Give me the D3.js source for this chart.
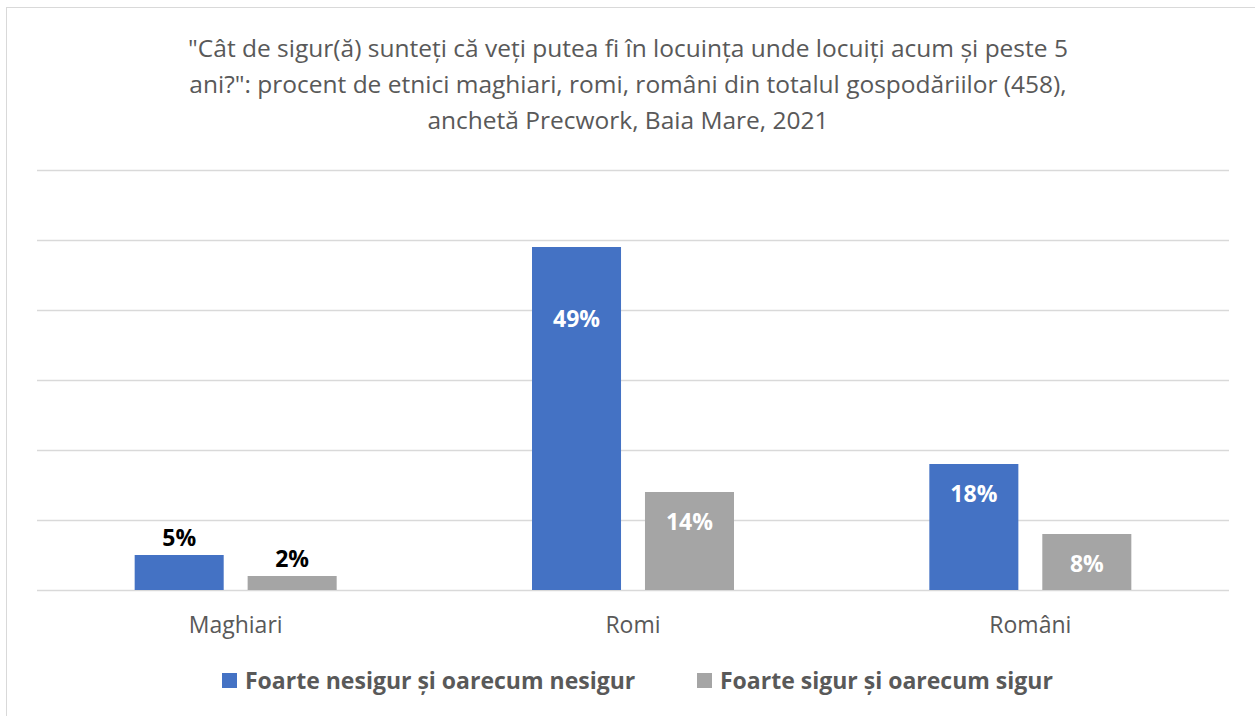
<!DOCTYPE html>
<html>
<head>
  <meta charset="utf-8">
  <script src="https://d3js.org/d3.v7.min.js"></script>
  <style>
    body { margin: 0; background: #fff; }
    text { font-family: "Open Sans", "Noto Sans", sans-serif; }
  </style>
</head>
<body>
  <script>
    // Chart data
    var categories = ["Maghiari", "Romi", "Români"];
    var seriesNames = ["Foarte nesigur și oarecum nesigur", "Foarte sigur și oarecum sigur"];
    var unsure = [5, 49, 18];
    var sure = [2, 14, 8];
    var gridTicks = [0, 10, 20, 30, 40, 50, 60];
    var titleLines = [
      "\"Cât de sigur(ă) sunteți că veți putea fi în locuința unde locuiți acum și peste 5",
      "ani?\": procent de etnici maghiari, romi, români din totalul gospodăriilor (458),",
      "anchetă Precwork, Baia Mare, 2021"
    ];

    var W = 1255, H = 716;
    var colors = ["#4472C4", "#A5A5A5"];
    var margin = {top: 170, right: 26, bottom: 126, left: 37};
    var width = W - margin.left - margin.right;
    var height = H - margin.top - margin.bottom;

    var svg = d3.select("body").append("svg")
      .attr("width", W)
      .attr("height", H);

    // Outer chart border
    svg.append("rect")
      .attr("x", 6.5).attr("y", 7.5)
      .attr("width", W + 10).attr("height", H + 10)
      .attr("fill", "none")
      .attr("stroke", "#d9d9d9");

    // Title
    svg.append("g").selectAll("text")
      .data(titleLines)
      .join("text")
      .attr("x", 628)
      .attr("y", function(d, i) { return 57 + i * 36; })
      .attr("text-anchor", "middle")
      .attr("fill", "#595959")
      .style("font-size", "24.5px")
      .text(function(d) { return d; });

    var g = svg.append("g")
      .attr("transform", "translate(" + margin.left + "," + margin.top + ")");

    var x0 = d3.scaleBand().domain(categories).range([0, width]).paddingInner(0).paddingOuter(0);
    var x1 = d3.scaleBand().domain([0, 1]).range([0, 202]).paddingInner(0.212);
    var y = d3.scaleLinear().domain([0, 60]).range([height, 0]);

    // Gridlines
    g.append("g").selectAll("line")
      .data(gridTicks)
      .join("line")
      .attr("x1", 0).attr("x2", width)
      .attr("y1", function(d) { return Math.round(y(d)) + 0.5; })
      .attr("y2", function(d) { return Math.round(y(d)) + 0.5; })
      .attr("stroke", "#d9d9d9")
      .attr("stroke-width", 1.3);

    var rows = [];
    categories.forEach(function(c, i) {
      rows.push({cat: c, s: 0, v: unsure[i]});
      rows.push({cat: c, s: 1, v: sure[i]});
    });

    function barX(d) {
      return x0(d.cat) + (x0.bandwidth() - 202) / 2 + x1(d.s);
    }

    g.append("g").selectAll("rect")
      .data(rows)
      .join("rect")
      .attr("x", barX)
      .attr("width", x1.bandwidth())
      .attr("y", function(d) { return y(d.v); })
      .attr("height", function(d) { return height - y(d.v); })
      .attr("fill", function(d) { return colors[d.s]; });

    // Value labels: inside end for tall bars, outside end for short ones
    function isInside(d) { return height - y(d.v) > 40; }
    g.append("g").selectAll("text")
      .data(rows)
      .join("text")
      .attr("x", function(d) { return barX(d) + x1.bandwidth() / 2; })
      .attr("y", function(d) {
        if (!isInside(d)) return y(d.v) - 9;
        // the tall bar's label sits lower inside the bar
        return y(d.v) + (d.v > 40 ? 80 : 38);
      })
      .attr("text-anchor", "middle")
      .attr("fill", function(d) { return isInside(d) ? "#fff" : "#000"; })
      .style("font-size", "23px")
      .style("font-weight", "bold")
      .text(function(d) { return d.v + "%"; });

    // Category axis labels
    g.append("g").selectAll("text")
      .data(categories)
      .join("text")
      .attr("x", function(d) { return x0(d) + x0.bandwidth() / 2; })
      .attr("y", height + 43)
      .attr("text-anchor", "middle")
      .attr("fill", "#595959")
      .style("font-size", "23px")
      .text(function(d) { return d; });

    // Legend
    var legendX = [222, 697];
    var legend = svg.append("g").selectAll("g")
      .data(seriesNames)
      .join("g")
      .attr("transform", function(d, i) { return "translate(" + legendX[i] + ",673)"; });
    legend.append("rect")
      .attr("width", 15).attr("height", 15)
      .attr("fill", function(d, i) { return colors[i]; });
    legend.append("text")
      .attr("x", 23).attr("y", 16)
      .attr("fill", "#595959")
      .style("font-size", "23px")
      .style("font-weight", "bold")
      .text(function(d) { return d; });
  </script>
</body>
</html>
